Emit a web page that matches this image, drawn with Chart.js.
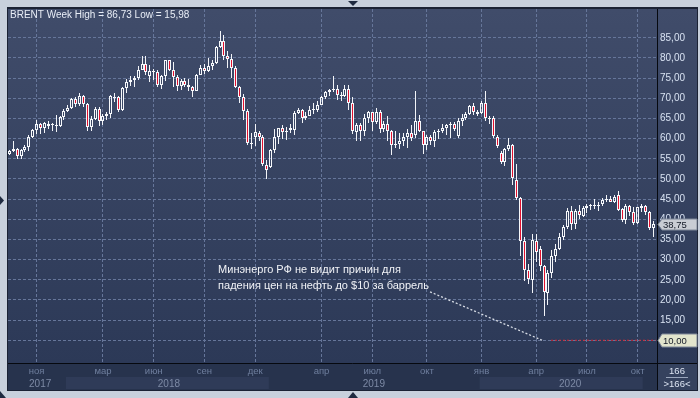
<!DOCTYPE html>
<html>
<head>
<meta charset="utf-8">
<script src="https://cdn.jsdelivr.net/npm/chart.js@4/dist/chart.umd.min.js"></script>
<style>
html, body { margin: 0; padding: 0; background: #c8d0dc; overflow: hidden; }
canvas { display: block; }
</style>
</head>
<body>
<canvas id="brentChart" width="700" height="398"></canvas>
<script>
// weekly BRENT bars, 18.09.2017 .. 02.11.2020 (year-end 2019 split into 3 bars)
const opens = [
  56.3, 56.9, 57.5, 55.6, 57.2, 57.8, 60.4, 62.1, 63.5, 62.7, 63.2, 63.7, 63.4, 63.2, 65.3, 66.9, 67.6, 69.9, 68.6, 70.5,
  68.6, 62.8, 64.8, 67.3, 64.4, 65.5, 66.2, 70.1, 70.3, 67.1, 72.6, 74.1, 74.6, 74.9, 77.1, 78.5, 75.6, 76.8, 76.5, 73.4,
  75.6, 79.4, 77.1, 75.3, 73.1, 74.3, 73.2, 72.8, 71.8, 75.8, 77.4, 76.8, 78.1, 78.8, 82.7, 84.2, 80.4, 79.8, 77.6, 72.8,
  70.2, 66.8, 58.8, 60.3, 61.5, 60.3, 53.4, 53.0, 57.1, 60.5, 62.6, 61.6, 62.6, 62.1, 66.3, 67.1, 65.1, 65.7, 67.2, 67.0,
  68.4, 70.3, 71.6, 72.0, 72.2, 70.9, 70.6, 72.2, 68.7, 61.6, 63.3, 62.0, 65.2, 66.6, 64.2, 66.7, 62.5, 63.5, 61.9, 58.5,
  58.6, 59.3, 60.4, 61.5, 61.0, 64.3, 61.9, 58.4, 60.5, 59.5, 61.6, 62.0, 62.6, 63.3, 63.6, 60.6, 64.3, 65.1, 66.1, 68.1,
  66.6, 66.4, 68.9, 64.9, 65.2, 60.5, 56.5, 54.3, 57.3, 58.3, 49.8, 45.3, 34.6, 27.3, 25.0, 34.5, 32.6, 28.3, 21.7, 26.7,
  31.0, 32.6, 35.5, 38.2, 42.1, 38.8, 42.1, 40.8, 42.8, 43.2, 43.3, 43.5, 43.8, 44.8, 45.0, 44.4, 45.9, 42.6, 39.7, 43.2,
  41.8, 39.0, 42.9, 43.2, 41.8, 37.9
];
const highs = [
  57.2, 59.5, 57.6, 57.3, 58.4, 61.0, 62.5, 64.7, 63.9, 64.0, 64.3, 63.8, 65.8, 65.5, 67.3, 68.3, 70.1, 70.4, 71.3, 70.9,
  68.8, 65.5, 67.8, 67.9, 66.1, 66.5, 70.8, 71.2, 70.5, 72.7, 74.8, 75.5, 75.5, 78.0, 80.5, 80.5, 78.2, 77.3, 76.9, 75.8,
  79.6, 79.6, 79.0, 75.7, 74.8, 75.0, 74.8, 73.1, 76.0, 78.2, 78.4, 80.1, 79.6, 82.9, 86.73, 85.6, 81.7, 81.0, 78.0, 73.1,
  71.0, 67.4, 61.3, 63.5, 62.0, 61.0, 54.8, 57.5, 62.5, 62.7, 63.4, 62.9, 63.5, 66.8, 67.6, 67.4, 66.7, 68.2, 68.7, 69.2,
  70.6, 71.8, 72.3, 75.6, 73.2, 71.5, 73.2, 73.2, 70.3, 63.9, 63.8, 66.1, 66.9, 66.7, 67.5, 67.0, 64.3, 65.6, 62.1, 61.9,
  61.3, 61.3, 62.3, 63.4, 71.9, 65.9, 62.0, 61.0, 60.9, 62.2, 62.4, 63.5, 63.6, 64.0, 64.2, 65.0, 66.0, 66.6, 68.3, 68.8,
  67.1, 69.4, 71.75, 65.5, 65.5, 61.0, 56.8, 57.6, 60.1, 58.6, 53.8, 45.5, 35.5, 28.8, 36.3, 36.3, 33.4, 28.6, 27.5, 32.4,
  33.8, 36.6, 38.6, 42.8, 43.4, 42.6, 43.6, 43.2, 43.7, 43.9, 44.9, 44.4, 45.3, 46.1, 45.7, 46.0, 46.9, 42.9, 43.9, 43.6,
  43.0, 43.1, 43.8, 43.5, 42.0, 39.5
];
const lows = [
  55.9, 56.7, 55.0, 55.0, 56.6, 57.0, 60.2, 61.1, 61.1, 61.4, 62.3, 61.8, 61.6, 62.8, 64.7, 66.6, 67.4, 67.8, 68.2, 67.8,
  61.8, 61.8, 64.5, 63.2, 63.3, 64.5, 65.2, 69.0, 66.6, 66.9, 71.2, 73.0, 72.8, 74.5, 76.9, 75.7, 74.1, 74.5, 72.9, 72.4,
  74.2, 76.8, 72.7, 71.8, 72.1, 72.7, 71.7, 70.3, 71.7, 75.7, 75.9, 76.6, 76.9, 78.6, 82.5, 79.4, 77.4, 75.1, 72.5, 68.8,
  64.6, 58.4, 57.5, 58.2, 59.3, 53.2, 49.9, 52.6, 56.5, 58.6, 60.0, 59.7, 61.4, 60.9, 66.0, 63.9, 64.6, 65.5, 66.0, 66.7,
  68.4, 69.9, 70.5, 71.6, 69.5, 69.2, 70.3, 67.2, 61.2, 59.5, 59.5, 60.6, 63.9, 61.9, 63.7, 61.5, 61.6, 59.5, 55.9, 57.7,
  57.4, 58.1, 57.7, 59.5, 60.1, 61.6, 56.2, 57.2, 58.4, 57.8, 59.9, 61.3, 61.0, 60.1, 61.9, 60.1, 63.2, 64.6, 65.8, 65.9,
  65.7, 66.1, 64.4, 63.6, 60.1, 57.6, 53.8, 53.1, 56.8, 48.4, 44.8, 31.0, 24.7, 24.0, 21.7, 29.5, 27.1, 15.98, 18.8, 25.4,
  29.5, 32.4, 34.8, 37.5, 37.4, 37.6, 40.1, 40.5, 41.5, 42.2, 42.6, 42.0, 43.3, 44.4, 44.2, 44.0, 42.0, 39.2, 38.9, 40.9,
  38.6, 38.9, 41.8, 41.1, 37.3, 35.7
];
const closes = [
  56.9, 57.5, 55.6, 57.2, 57.8, 60.4, 62.1, 63.5, 62.7, 63.9, 63.7, 63.4, 63.2, 65.3, 66.9, 67.6, 69.9, 68.6, 70.5, 68.6,
  62.8, 64.8, 67.3, 64.4, 65.5, 66.2, 70.5, 70.3, 67.1, 72.6, 74.1, 74.6, 74.9, 77.1, 78.5, 76.4, 76.8, 76.5, 73.4, 75.6,
  79.4, 77.1, 75.3, 73.1, 74.3, 73.2, 72.8, 71.8, 75.8, 77.4, 76.8, 78.1, 78.8, 82.7, 84.2, 80.4, 79.8, 77.6, 72.8, 70.2,
  66.8, 58.8, 58.7, 61.6, 60.3, 53.8, 52.2, 57.1, 60.5, 62.6, 61.6, 61.9, 62.1, 66.3, 67.1, 65.1, 65.7, 67.2, 67.0, 68.4,
  70.3, 71.6, 72.0, 72.2, 70.9, 70.6, 72.2, 68.7, 62.0, 63.3, 62.0, 65.2, 66.6, 64.2, 66.7, 62.5, 63.5, 61.9, 58.5, 58.6,
  59.3, 60.4, 61.5, 60.2, 64.3, 61.9, 58.4, 60.5, 59.5, 61.6, 62.0, 62.6, 63.4, 63.6, 62.4, 64.4, 65.1, 66.1, 68.1, 66.6,
  66.2, 68.9, 65.0, 65.2, 60.7, 58.1, 54.3, 57.3, 58.4, 50.2, 45.3, 34.6, 27.4, 25.3, 34.9, 32.0, 28.5, 21.9, 26.7, 31.0,
  32.6, 35.5, 38.1, 42.1, 38.8, 42.1, 41.0, 42.9, 43.3, 43.2, 43.5, 43.4, 44.8, 45.0, 44.4, 45.4, 42.4, 39.7, 43.2, 41.8,
  39.0, 43.0, 43.2, 41.9, 37.8, 38.75
];

const monthTicks = [7, 24, 37, 50, 63, 80, 93, 107, 121, 135, 148, 161];
const monthLabels = ['ноя', 'мар', 'июн', 'сен', 'дек', 'апр', 'июл', 'окт', 'янв', 'апр', 'июл', 'окт'];
const yearTicks = [7.9, 40.9, 93.4, 143.7];
const yearLabels = ['2017', '2018', '2019', '2020'];
const yearBands = [[14.5, 66.5], [120.5, 162.3]];
const priceTicks = [10, 15, 20, 25, 30, 35, 40, 45, 50, 55, 60, 65, 70, 75, 80, 85];
const floorLevel = 10;
const trendLine = [{x: 107.8, y: 22.0}, {x: 136.5, y: 10}];
const floorLine = [{x: 138.8, y: 10}, {x: 165.6, y: 10}];
const noteLines = ['Минэнерго РФ не видит причин для', 'падения цен на нефть до $10 за баррель'];

const UP = 'rgba(0,0,0,0)';
const DOWN = '#e2112e';
const fmt = v => v.toFixed(2).replace('.', ',');

const bodies = opens.map((o, i) => ({x: i, y: [o, closes[i]]}));
const upperWicks = opens.map((o, i) => ({x: i, y: [Math.max(o, closes[i]), highs[i]]}));
const lowerWicks = opens.map((o, i) => ({x: i, y: [lows[i], Math.min(o, closes[i])]}));

Chart.defaults.font.family = '"Liberation Sans", Arial, sans-serif';

// snap candle rectangles to whole pixels so they stay crisp like the terminal chart
const pixelSnap = {
  id: 'pixelSnap',
  beforeDatasetsDraw(chart) {
    chart.data.datasets.forEach((ds, i) => {
      if (ds.type === 'line') return;
      chart.getDatasetMeta(i).data.forEach(el => {
        el.x = Math.floor(el.x) + 0.5;
        el.y = Math.round(el.y);
        el.base = Math.round(el.base);
        if (ds.label === 'BRENT' && Math.abs(el.y - el.base) < 1) el.base = el.y + 1;
        el.height = el.base - el.y;
      });
    });
  }
};

const frame = {
  id: 'frame',
  beforeDraw(chart) {
    const {ctx, chartArea: a, scales} = chart;
    ctx.save();
    ctx.fillStyle = '#c8d0dc';
    ctx.fillRect(0, 0, 700, 398);
    ctx.fillStyle = '#1b2234';
    ctx.fillRect(7, 7, 691, 384);
    const g = ctx.createLinearGradient(0, a.top, 0, a.bottom);
    g.addColorStop(0, '#404c6a');
    g.addColorStop(1, '#2c3957');
    ctx.fillStyle = g;
    ctx.fillRect(a.left, a.top, 697 - a.left, a.bottom - a.top);
    // time axis rows
    ctx.fillStyle = '#27334d';
    ctx.fillRect(a.left, a.bottom, a.right - a.left, 390 - a.bottom);
    ctx.fillStyle = '#2f3b58';
    yearBands.forEach(b => {
      const x1 = scales.x.getPixelForValue(b[0]);
      const x2 = scales.x.getPixelForValue(b[1]);
      ctx.fillRect(x1, 377, x2 - x1, 12);
    });
    ctx.fillStyle = '#35425e';
    ctx.fillRect(a.right, a.bottom, 697 - a.right, 390 - a.bottom);
    ctx.restore();
  },
  afterDraw(chart) {
    const {ctx, chartArea: a, scales} = chart;
    ctx.save();
    // separators
    ctx.strokeStyle = '#06090f';
    ctx.lineWidth = 1;
    ctx.beginPath();
    ctx.moveTo(a.left, a.bottom + 0.5);
    ctx.lineTo(697, a.bottom + 0.5);
    ctx.moveTo(a.right + 0.5, a.top);
    ctx.lineTo(a.right + 0.5, 390);
    ctx.stroke();

    // title
    ctx.font = '10px "Liberation Sans", Arial, sans-serif';
    ctx.fillStyle = '#e8edf6';
    ctx.textBaseline = 'alphabetic';
    ctx.textAlign = 'left';
    ctx.fillText('BRENT Week High = ' + fmt(Math.max(...highs)) + ' Low = ' + fmt(Math.min(...lows)), 10, 18);

    // news note
    ctx.font = '11px "Liberation Sans", Arial, sans-serif';
    ctx.fillStyle = '#f1f3f7';
    ctx.textBaseline = 'middle';
    const nx = scales.x.getPixelForValue(53.5);
    ctx.fillText(noteLines[0], nx, scales.y.getPixelForValue(27.4));
    ctx.fillText(noteLines[1], nx, scales.y.getPixelForValue(23.4));

    // price tags on the axis
    const tag = (value, fill, h) => {
      const y = Math.round(scales.y.getPixelForValue(value)) + 0.5;
      const x = a.right + 1;
      ctx.beginPath();
      ctx.moveTo(x, y);
      ctx.lineTo(x + 4, y - h);
      ctx.lineTo(697, y - h);
      ctx.lineTo(697, y + h);
      ctx.lineTo(x + 4, y + h);
      ctx.closePath();
      ctx.fillStyle = fill;
      ctx.fill();
      ctx.strokeStyle = '#7f8899';
      ctx.stroke();
      ctx.font = '9.5px "Liberation Sans", Arial, sans-serif';
      ctx.fillStyle = '#131926';
      ctx.textBaseline = 'middle';
      ctx.fillText(fmt(value), x + 5, y + 0.5);
    };
    tag(closes[closes.length - 1], '#c9cdd4', 5.5);
    tag(floorLevel, '#e2e5cd', 6.5);

    // bar counter
    ctx.font = '9.5px "Liberation Sans", Arial, sans-serif';
    ctx.fillStyle = '#dce4f2';
    ctx.textAlign = 'center';
    const cx = (a.right + 697) / 2;
    ctx.fillText(String(opens.length), cx, 371);
    ctx.fillText('>' + opens.length + '<', cx, 384);
    ctx.strokeStyle = '#9aa6bc';
    ctx.beginPath();
    ctx.moveTo(cx - 11, 377.5);
    ctx.lineTo(cx + 11, 377.5);
    ctx.stroke();

    // little scroll markers
    ctx.fillStyle = '#1f2a40';
    const tri = pts => {
      ctx.beginPath();
      ctx.moveTo(pts[0], pts[1]);
      ctx.lineTo(pts[2], pts[3]);
      ctx.lineTo(pts[4], pts[5]);
      ctx.closePath();
      ctx.fill();
    };
    tri([348, 1, 358, 1, 353, 6]);
    tri([348, 398, 358, 398, 353, 392]);
    tri([0, 196, 0, 205, 4, 200.5]);
    tri([0, 391, 0, 398, 6, 398]);
    ctx.restore();
  }
};

const wickStyle = {
  type: 'bar',
  grouped: false,
  barThickness: 1,
  borderWidth: 0,
  backgroundColor: '#f2f4f8',
  inflateAmount: 0,
  order: 2
};

new Chart(document.getElementById('brentChart').getContext('2d'), {
  type: 'bar',
  data: {
    datasets: [
      Object.assign({label: 'high', data: upperWicks}, wickStyle),
      Object.assign({label: 'low', data: lowerWicks}, wickStyle),
      {
        label: 'BRENT',
        data: bodies,
        grouped: false,
        barThickness: 3,
        minBarLength: 1,
        borderWidth: 1,
        borderSkipped: false,
        borderColor: '#f6f8fb',
        inflateAmount: 0,
        backgroundColor: c => closes[c.dataIndex] < opens[c.dataIndex] ? DOWN : UP,
        order: 1
      },
      {
        type: 'line',
        label: 'trend',
        data: trendLine,
        borderColor: '#d9dee7',
        borderWidth: 1.3,
        borderDash: [2, 2],
        pointRadius: 0,
        order: 0
      },
      {
        type: 'line',
        label: 'floor',
        data: floorLine,
        borderColor: '#d8222f',
        borderWidth: 1,
        borderDash: [2, 2],
        pointRadius: 0,
        order: 0
      }
    ]
  },
  options: {
    responsive: false,
    animation: false,
    devicePixelRatio: 1,
    layout: { padding: { left: 8, top: 8, right: 3, bottom: 8 } },
    plugins: { legend: { display: false }, tooltip: { enabled: false } },
    scales: {
      x: {
        type: 'linear',
        position: 'bottom',
        min: -0.333,
        max: 165.95,
        offset: false,
        weight: 0,
        afterFit: s => { s.height = 14; },
        afterBuildTicks: s => { s.ticks = monthTicks.map(v => ({value: v})); },
        grid: { offset: false, color: '#66769a', drawTicks: false },
        border: { display: false, dash: [3, 2] },
        ticks: {
          autoSkip: false, maxRotation: 0, minRotation: 0, padding: 3,
          color: '#6f7f9e', font: { size: 9.5 },
          callback: (v, i) => monthLabels[i]
        }
      },
      xYear: {
        type: 'linear',
        position: 'bottom',
        min: -0.333,
        max: 165.95,
        offset: false,
        weight: 1,
        afterFit: s => { s.height = 13; },
        afterBuildTicks: s => { s.ticks = yearTicks.map(v => ({value: v})); },
        grid: { display: false, drawTicks: false },
        border: { display: false },
        ticks: {
          autoSkip: false, maxRotation: 0, minRotation: 0, padding: 1,
          color: '#7d8aa5', font: { size: 10 },
          callback: (v, i) => yearLabels[i]
        }
      },
      y: {
        type: 'linear',
        position: 'right',
        min: 4.36,
        max: 92.13,
        afterFit: s => { s.width = 40; },
        afterBuildTicks: s => { s.ticks = priceTicks.map(v => ({value: v})); },
        grid: { color: '#66769a', drawTicks: false },
        border: { display: false, dash: [3, 2] },
        ticks: {
          padding: 3, color: '#d8e2f2', font: { size: 10 },
          callback: v => fmt(v)
        }
      }
    }
  },
  plugins: [pixelSnap, frame]
});
</script>
</body>
</html>
